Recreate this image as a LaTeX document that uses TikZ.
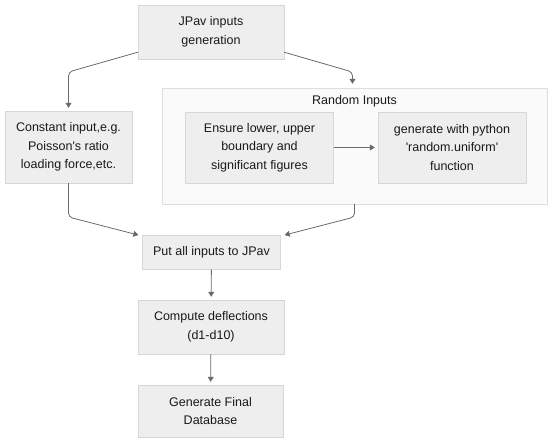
\documentclass[tikz,border=0pt]{standalone}
\usepackage{fontspec}
\setmainfont{Liberation Sans}
\usepackage{tikz}
\usetikzlibrary{arrows.meta,shadows}
\definecolor{boxfill}{HTML}{EEEEEE}
\definecolor{boxline}{HTML}{D6D6D6}
\definecolor{grpfill}{HTML}{FAFAFA}
\definecolor{grpline}{HTML}{DEDEDE}
\definecolor{flowcol}{HTML}{6A6A6A}

\begin{document}
\begin{tikzpicture}[x=1pt,y=1pt,>={Triangle[width=6pt,length=5pt]},
  every node/.style={font=\fontsize{12.5}{18.5}\selectfont,text=black!90},
  box/.style={draw=boxline,fill=boxfill,align=center,inner sep=0pt,
    drop shadow={opacity=0.18,shadow xshift=0.6pt,shadow yshift=-0.9pt}},
  group/.style={draw=grpline,fill=grpfill,inner sep=0pt,
    drop shadow={opacity=0.12,shadow xshift=0.6pt,shadow yshift=-0.9pt}},
  flow/.style={->,draw=flowcol,line width=0.8pt,rounded corners=4pt,shorten >=3pt}]
\useasboundingbox (0,0) rectangle (550,444);

% Random inputs group
\node[group,minimum width=385,minimum height=116] (rand) at (354.5,298) {};
\node[anchor=north] (randlbl) at ([yshift=-4pt]rand.north) {Random Inputs};

% Boxes
\node[box,minimum width=146,minimum height=54] (gen) at (211,412) {JPav inputs\\generation};
\node[box,minimum width=127,minimum height=72] (const) at (68.5,297) {Constant input,e.g.\\Poisson\textquotesingle s ratio\\loading force,etc.};
\node[box,minimum width=148,minimum height=71] (ensure) at (259.5,296.5) {Ensure lower, upper\\boundary and\\significant figures};
\node[box,minimum width=148,minimum height=71] (pygen) at (452,296.5) {generate with python\\\textquotesingle random.uniform\textquotesingle\\function};
\node[box,minimum width=138,minimum height=34] (put) at (211.5,191.5) {Put all inputs to JPav};
\node[box,minimum width=146,minimum height=54] (comp) at (211,117) {Compute deflections\\(d1-d10)};
\node[box,minimum width=145,minimum height=52] (final) at (210.5,33) {Generate Final\\Database};

% Connectors
\draw[flow] ([yshift=7pt]gen.south west) -- (const.north |- 0,372) -- (const.north);
\draw[flow,shorten >=4pt] ([yshift=7pt]gen.south east) -- ([xshift=-2pt]rand.north |- 0,372) -- ([xshift=-2pt]rand.north);
\draw[flow] (ensure) -- (pygen);
\draw[flow,shorten >=1pt] (const.south) -- (const.south |- 0,227) -- ([xshift=-3pt]put.north west);
\draw[flow,shorten >=1pt] (rand.south) -- (rand.south |- 0,227) -- ([xshift=3pt]put.north east);
\draw[flow] (put) -- (comp);
\draw[flow] (comp) -- (final);
\end{tikzpicture}
\end{document}
